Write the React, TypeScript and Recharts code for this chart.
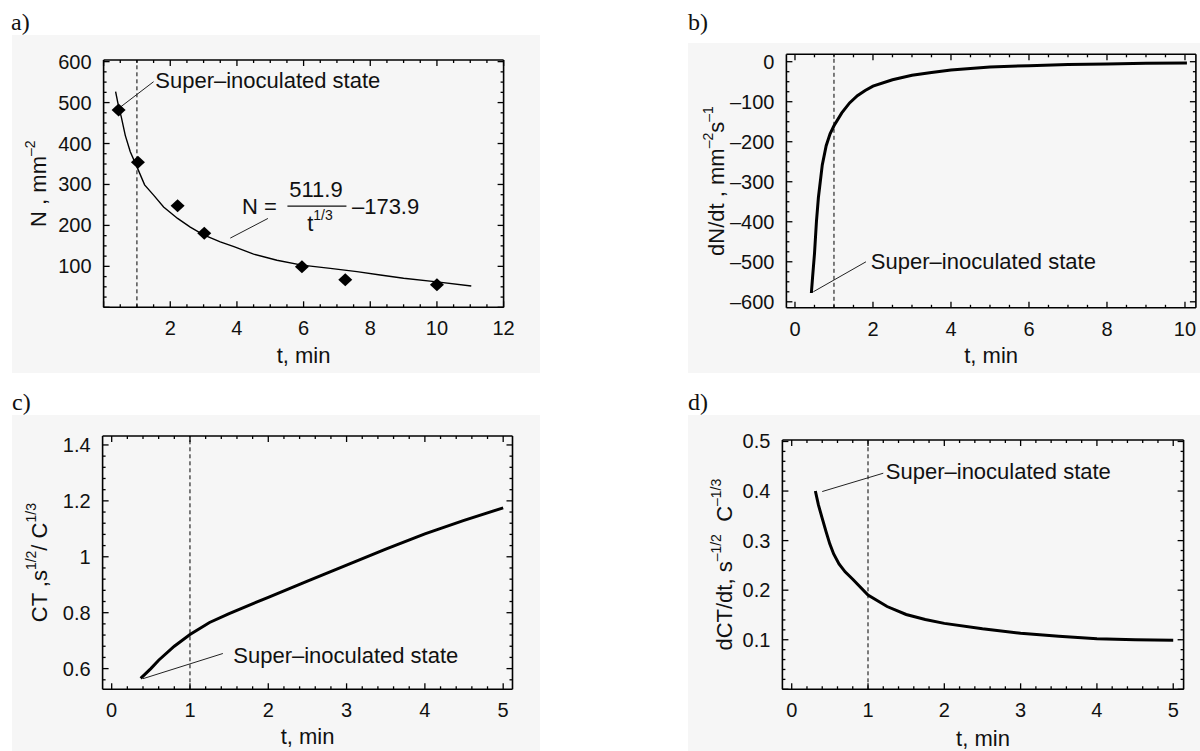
import React from 'react';
import { ComposedChart, Line, Scatter, XAxis, YAxis, ReferenceLine, ReferenceDot } from 'recharts';

const FONT = '"Liberation Sans", Arial, sans-serif';
const SERIF = '"Liberation Serif", "Times New Roman", serif';
const BG = '#f6f6f6';
const INK = '#111';

// ---------- panel a: N(t) ----------
const aPointT = [0.45, 1.03, 2.22, 3.02, 5.95, 7.25, 10.0];
const aPointN = [482, 354, 248, 181, 99, 67, 55];
const aFitT = [0.36, 0.45, 0.53, 0.65, 0.8, 1.0, 1.23, 1.5, 1.8, 2.22, 2.6, 3.0, 3.5, 3.91, 4.5, 5.2, 5.95, 6.8, 7.6, 8.3, 9.0, 10.0, 11.03];
const aFitN = [527, 490, 465, 420, 380, 343, 299, 274, 245, 217, 196, 177, 160, 148, 130, 115, 103, 95, 87, 79, 71, 62, 52];
const aXLabelVals = [2, 4, 6, 8, 10, 12];
const aXLabels = ['2', '4', '6', '8', '10', '12'];
const aYLabelVals = [100, 200, 300, 400, 500, 600];
const aYLabels = ['100', '200', '300', '400', '500', '600'];

// ---------- panel b: dN/dt ----------
const bT = [0.42, 0.45, 0.5, 0.55, 0.6, 0.7, 0.8, 0.9, 1.0, 1.2, 1.4, 1.6, 1.8, 2.0, 2.5, 3.0, 3.5, 4.0, 4.5, 5.0, 6.0, 7.0, 8.0, 9.0, 10.05];
const bV = [-578, -540, -480, -400, -340, -258, -210, -180, -160, -128, -103, -85, -72, -61, -45, -34, -27, -21, -17, -13, -10, -7, -5.5, -4, -3];
const bXLabelVals = [0, 2, 4, 6, 8, 10];
const bXLabels = ['0', '2', '4', '6', '8', '10'];
const bYLabelVals = [0, -100, -200, -300, -400, -500, -600];
const bYLabels = ['0', '–100', '–200', '–300', '–400', '–500', '–600'];

// ---------- panel c: CT ----------
const cT = [0.37, 0.5, 0.6, 0.8, 1.0, 1.25, 1.5, 2.0, 2.5, 3.0, 3.5, 4.0, 4.5, 5.0];
const cV = [0.565, 0.6, 0.63, 0.68, 0.722, 0.765, 0.797, 0.855, 0.913, 0.97, 1.027, 1.082, 1.13, 1.175];
const cXLabelVals = [0, 1, 2, 3, 4, 5];
const cXLabels = ['0', '1', '2', '3', '4', '5'];
const cYLabelVals = [0.6, 0.8, 1.0, 1.2, 1.4];
const cYLabels = ['0.6', '0.8', '1', '1.2', '1.4'];

// ---------- panel d: dCT/dt ----------
const dT = [0.31, 0.35, 0.4, 0.45, 0.5, 0.55, 0.62, 0.7, 0.8, 1.0, 1.25, 1.5, 1.75, 2.0, 2.5, 3.0, 3.5, 4.0, 4.5, 5.0];
const dV = [0.4, 0.372, 0.345, 0.318, 0.293, 0.273, 0.253, 0.237, 0.222, 0.19, 0.167, 0.151, 0.141, 0.133, 0.122, 0.113, 0.107, 0.102, 0.1, 0.099];
const dXLabelVals = [0, 1, 2, 3, 4, 5];
const dXLabels = ['0', '1', '2', '3', '4', '5'];
const dYLabelVals = [0.1, 0.2, 0.3, 0.4, 0.5];
const dYLabels = ['0.1', '0.2', '0.3', '0.4', '0.5'];

const annotationText = 'Super–inoculated state';

// axis decoration helpers
const steps = (a: number, b: number, s: number) => {
  const out: number[] = [];
  for (let i = 0; a + i * s <= b + 1e-9; i++) out.push(Math.round((a + i * s) * 1e6) / 1e6);
  return out;
};
const near = (arr: number[], v: number) => arr.findIndex((m) => Math.abs(m - v) < 1e-6);

type Side = 'bottom' | 'left' | 'top' | 'right';
const makeTick = (side: Side, majors: number[], labelVals: number[], labels: string[]) => (props: any) => {
  const { x, y, payload } = props;
  const v = payload.value;
  const isMajor = near(majors, v) >= 0;
  const len = isMajor ? 6 : 3;
  const li = near(labelVals, v);
  let line: React.ReactNode = null;
  let text: React.ReactNode = null;
  if (side === 'bottom') {
    line = <line x1={x} y1={y} x2={x} y2={y - len} stroke="#000" strokeWidth={1.3} />;
    if (li >= 0) text = <text x={x} y={y + 21} textAnchor="middle" dominantBaseline="central" fontFamily={FONT} fontSize={20} fill={INK}>{labels[li]}</text>;
  } else if (side === 'top') {
    line = <line x1={x} y1={y} x2={x} y2={y + len} stroke="#000" strokeWidth={1.3} />;
  } else if (side === 'left') {
    line = <line x1={x} y1={y} x2={x + len} y2={y} stroke="#000" strokeWidth={1.3} />;
    if (li >= 0) text = <text x={x - 12} y={y} textAnchor="end" dominantBaseline="central" fontFamily={FONT} fontSize={20} fill={INK}>{labels[li]}</text>;
  } else {
    line = <line x1={x} y1={y} x2={x - len} y2={y} stroke="#000" strokeWidth={1.3} />;
  }
  return <g>{line}{text}</g>;
};

const xTitle = (dy: number) => (p: any) => {
  const vb = p.viewBox;
  return (
    <text x={vb.x + vb.width / 2} y={vb.y + dy} textAnchor="middle" dominantBaseline="central" fontFamily={FONT} fontSize={22} fill={INK}>
      t, min
    </text>
  );
};

const yTitle = (parts: React.ReactNode, dx: number, dyc: number) => (p: any) => {
  const vb = p.viewBox;
  const cx = vb.x + vb.width + dx;
  const cy = vb.y + vb.height / 2 + dyc;
  return (
    <text x={cx} y={cy} transform={`rotate(-90 ${cx} ${cy})`} textAnchor="middle" dominantBaseline="central" fontFamily={FONT} fontSize={22} fill={INK} style={{ whiteSpace: 'pre' }}>
      {parts}
    </text>
  );
};

const annLabel = (s: string) => (p: any) => {
  const vb = p.viewBox;
  return (
    <text x={vb.x + 1} y={vb.y} dominantBaseline="central" fontFamily={FONT} fontSize={22} fill={INK}>
      {s}
    </text>
  );
};

const formulaLabel = (p: any) => {
  const { x, y } = p.viewBox;
  return (
    <g fontFamily={FONT} fontSize={22} fill={INK}>
      <text x={x - 40} y={y} textAnchor="end" dominantBaseline="central">N =</text>
      <line x1={x - 29.5} x2={x + 29.5} y1={y} y2={y} stroke={INK} strokeWidth={1.4} />
      <text x={x - 1} y={y - 17} textAnchor="middle" dominantBaseline="central">511.9</text>
      <text x={x + 3} y={y + 17} textAnchor="middle" dominantBaseline="central">
        t<tspan dy={-8} fontSize={14}>1/3</tspan>
      </text>
      <text x={x + 35} y={y} dominantBaseline="central">–173.9</text>
    </g>
  );
};

const AXL = { stroke: '#000', strokeWidth: 1.6 };

type PanelProps = {
  left: number; top: number; width: number; height: number;
  plot: { top: number; left: number; right: number; bottom: number };
  xDomain: [number, number]; yDomain: [number, number];
  xTicks: number[]; yTicks: number[]; xMajors: number[]; yMajors: number[];
  xLabelVals: number[]; xLabels: string[]; yLabelVals: number[]; yLabels: string[];
  xTitleDy: number; yTitleParts: React.ReactNode; yTitleDx: number; yTitleDy: number;
  children: React.ReactNode;
};

// each frame side is a 1px-thick axis, so the margins are the plot offsets minus 1
function Panel(p: PanelProps) {
  const margin = { top: p.plot.top - 1, left: p.plot.left - 1, right: p.plot.right - 1, bottom: p.plot.bottom - 1 };
  return (
    <div style={{ position: 'absolute', left: p.left, top: p.top, width: p.width, height: p.height, background: BG }}>
      <ComposedChart width={p.width} height={p.height} margin={margin}>
        <XAxis xAxisId="b" dataKey="t" type="number" orientation="bottom" domain={p.xDomain} allowDataOverflow height={1}
          ticks={p.xTicks} interval={0} tickLine={false} tickSize={0} tickMargin={0} axisLine={AXL}
          tick={makeTick('bottom', p.xMajors, p.xLabelVals, p.xLabels)} label={{ content: xTitle(p.xTitleDy) }} />
        <XAxis xAxisId="t" dataKey="t" type="number" orientation="top" domain={p.xDomain} allowDataOverflow height={1}
          ticks={p.xTicks} interval={0} tickLine={false} tickSize={0} tickMargin={0} axisLine={AXL}
          tick={makeTick('top', p.xMajors, [], [])} />
        <YAxis yAxisId="l" dataKey="v" type="number" orientation="left" domain={p.yDomain} allowDataOverflow width={1}
          ticks={p.yTicks} interval={0} tickLine={false} tickSize={0} tickMargin={0} axisLine={AXL}
          tick={makeTick('left', p.yMajors, p.yLabelVals, p.yLabels)} label={{ content: yTitle(p.yTitleParts, p.yTitleDx, p.yTitleDy) }} />
        <YAxis yAxisId="r" dataKey="v" type="number" orientation="right" domain={p.yDomain} allowDataOverflow width={1}
          ticks={p.yTicks} interval={0} tickLine={false} tickSize={0} tickMargin={0} axisLine={AXL}
          tick={makeTick('right', p.yMajors, [], [])} />
        <ReferenceLine xAxisId="b" yAxisId="l" x={1} stroke="#000" strokeWidth={1} strokeDasharray="4 3" />
        {p.children}
      </ComposedChart>
    </div>
  );
}

const diamond = (props: any) => {
  const { cx, cy } = props;
  return <polygon points={`${cx - 7},${cy} ${cx},${cy - 6.5} ${cx + 7},${cy} ${cx},${cy + 6.5}`} fill="#000" />;
};

const sup = (s: string) => <tspan dy={-8} fontSize={14}>{s}</tspan>;

export default function App() {
  const aFit = aFitT.map((t, i) => ({ t, v: aFitN[i] }));
  const aPts = aPointT.map((t, i) => ({ t, v: aPointN[i] }));
  const bData = bT.map((t, i) => ({ t, v: bV[i] }));
  const cData = cT.map((t, i) => ({ t, v: cV[i] }));
  const dData = dT.map((t, i) => ({ t, v: dV[i] }));

  const panelLabel = (txt: string, left: number, top: number) => (
    <div style={{ position: 'absolute', left, top, fontFamily: SERIF, fontSize: 24, lineHeight: '26px', color: INK }}>{txt}</div>
  );

  return (
    <div style={{ position: 'absolute', left: 0, top: 0, width: 1200, height: 751, background: '#fff', overflow: 'hidden' }}>
      {panelLabel('a)', 11, 9)}
      {panelLabel('b)', 688, 9)}
      {panelLabel('c)', 12, 389)}
      {panelLabel('d)', 688, 389)}
      <div style={{ position: 'absolute', left: 533, top: 37, fontFamily: FONT, fontSize: 14, color: '#333' }}>-</div>

      <Panel left={12} top={35} width={528} height={338}
        plot={{ top: 25, left: 91.6, right: 36.4, bottom: 65.7 }}
        xDomain={[0, 12]} yDomain={[0, 604]}
        xTicks={steps(0, 12, 0.5)} yTicks={steps(0, 600, 25)}
        xMajors={steps(0, 12, 2)} yMajors={steps(0, 600, 100)}
        xLabelVals={aXLabelVals} xLabels={aXLabels} yLabelVals={aYLabelVals} yLabels={aYLabels}
        xTitleDy={47.7} yTitleDx={-66} yTitleDy={0}
        yTitleParts={<><tspan>N , mm</tspan>{sup('–2')}</>}>
        <Line xAxisId="b" yAxisId="l" data={aFit} dataKey="v" type="linear" stroke="#000" strokeWidth={1.4} dot={false} isAnimationActive={false} />
        <Scatter xAxisId="b" yAxisId="l" data={aPts} dataKey="v" fill="#000" shape={diamond} isAnimationActive={false} />
        <ReferenceLine xAxisId="b" yAxisId="l" segment={[{ x: 1.5, y: 551 }, { x: 0.52, y: 490 }]} stroke="#222" strokeWidth={1} />
        <ReferenceDot xAxisId="b" yAxisId="l" x={1.52} y={553} r={0} fill="none" stroke="none" label={{ content: annLabel(annotationText) }} />
        <ReferenceLine xAxisId="b" yAxisId="l" segment={[{ x: 4.93, y: 217 }, { x: 3.8, y: 169 }]} stroke="#222" strokeWidth={1} />
        <ReferenceDot xAxisId="b" yAxisId="l" x={6.4} y={247} r={0} fill="none" stroke="none" label={{ content: formulaLabel }} />
      </Panel>

      <Panel left={688} top={43} width={512} height={330}
        plot={{ top: 11.3, left: 98.4, right: 4.1, bottom: 65.2 }}
        xDomain={[-0.22, 10.28]} yDomain={[-615, 18.5]}
        xTicks={steps(0, 10, 0.5)} yTicks={steps(-600, 0, 25)}
        xMajors={steps(0, 10, 2)} yMajors={steps(-600, 0, 100)}
        xLabelVals={bXLabelVals} xLabels={bXLabels} yLabelVals={bYLabelVals} yLabels={bYLabels}
        xTitleDy={47.2} yTitleDx={-70} yTitleDy={0}
        yTitleParts={<><tspan>dN/dt , mm</tspan>{sup('–2')}<tspan dy={8}>s</tspan>{sup('–1')}</>}>
        <Line xAxisId="b" yAxisId="l" data={bData} dataKey="v" type="linear" stroke="#000" strokeWidth={3} dot={false} isAnimationActive={false} />
        <ReferenceLine xAxisId="b" yAxisId="l" segment={[{ x: 1.82, y: -500 }, { x: 0.47, y: -575 }]} stroke="#222" strokeWidth={1} />
        <ReferenceDot xAxisId="b" yAxisId="l" x={1.92} y={-500} r={0} fill="none" stroke="none" label={{ content: annLabel(annotationText) }} />
      </Panel>

      <Panel left={12} top={415} width={528} height={336}
        plot={{ top: 21, left: 90.6, right: 27.5, bottom: 61.7 }}
        xDomain={[-0.116, 5.119]} yDomain={[0.526, 1.432]}
        xTicks={steps(0, 5, 0.2)} yTicks={steps(0.56, 1.4, 0.04)}
        xMajors={steps(0, 5, 1)} yMajors={steps(0.6, 1.4, 0.2)}
        xLabelVals={cXLabelVals} xLabels={cXLabels} yLabelVals={cYLabelVals} yLabels={cYLabels}
        xTitleDy={47.4} yTitleDx={-64} yTitleDy={0}
        yTitleParts={<><tspan>CT ,s</tspan>{sup('1/2')}<tspan dy={8}>/ C</tspan>{sup('1/3')}</>}>
        <Line xAxisId="b" yAxisId="l" data={cData} dataKey="v" type="linear" stroke="#000" strokeWidth={3} dot={false} isAnimationActive={false} />
        <ReferenceLine xAxisId="b" yAxisId="l" segment={[{ x: 1.42, y: 0.654 }, { x: 0.4, y: 0.564 }]} stroke="#222" strokeWidth={1} />
        <ReferenceDot xAxisId="b" yAxisId="l" x={1.54} y={0.648} r={0} fill="none" stroke="none" label={{ content: annLabel(annotationText) }} />
      </Panel>

      <Panel left={688} top={415} width={512} height={336}
        plot={{ top: 25, left: 94.4, right: 16.4, bottom: 61.7 }}
        xDomain={[-0.122, 5.136]} yDomain={[0, 0.503]}
        xTicks={steps(0, 5, 0.2)} yTicks={steps(0, 0.5, 0.02)}
        xMajors={steps(0, 5, 1)} yMajors={steps(0, 0.5, 0.1)}
        xLabelVals={dXLabelVals} xLabels={dXLabels} yLabelVals={dYLabelVals} yLabels={dYLabels}
        xTitleDy={48.7} yTitleDx={-58} yTitleDy={0}
        yTitleParts={<><tspan>dCT/dt, s</tspan>{sup('–1/2')}<tspan dy={8}>{'  C'}</tspan>{sup('–1/3')}</>}>
        <Line xAxisId="b" yAxisId="l" data={dData} dataKey="v" type="linear" stroke="#000" strokeWidth={3} dot={false} isAnimationActive={false} />
        <ReferenceLine xAxisId="b" yAxisId="l" segment={[{ x: 1.2, y: 0.436 }, { x: 0.4, y: 0.399 }]} stroke="#222" strokeWidth={1} />
        <ReferenceDot xAxisId="b" yAxisId="l" x={1.22} y={0.439} r={0} fill="none" stroke="none" label={{ content: annLabel(annotationText) }} />
      </Panel>
    </div>
  );
}
